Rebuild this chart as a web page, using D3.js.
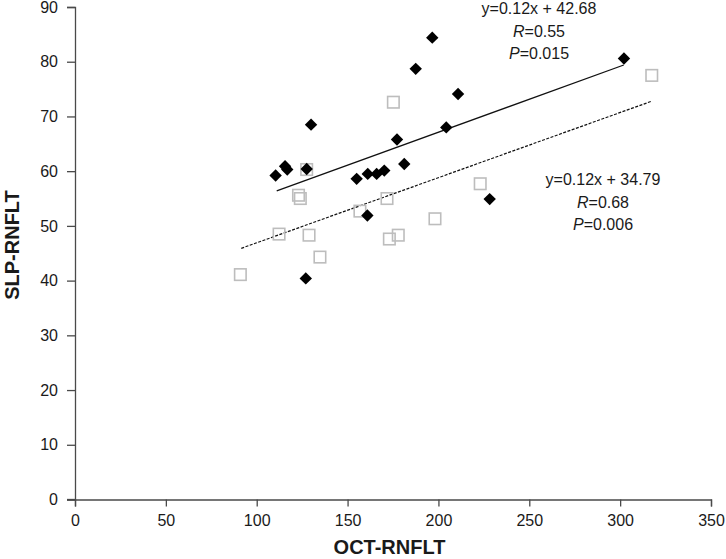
<!DOCTYPE html>
<html>
<head>
<meta charset="utf-8">
<script src="https://cdn.jsdelivr.net/npm/d3@7/dist/d3.min.js"></script>
<style>
  html, body { margin: 0; padding: 0; background: #fff; }
  svg { display: block; font-family: "Liberation Sans", Arial, sans-serif; }
</style>
</head>
<body>
<svg id="chart" width="726" height="559"></svg>
<script>
// Series 1 (black diamonds)
const diamondX = [110.4, 115.6, 116.8, 127.5, 129.9, 127.0, 155.0, 161.1, 160.9, 166.0, 170.2, 177.2, 181.2, 187.5, 196.6, 204.3, 210.8, 228.2, 302.1];
const diamondY = [59.2, 60.9, 60.3, 60.4, 68.5, 40.4, 58.6, 59.5, 51.9, 59.5, 60.1, 65.8, 61.3, 78.7, 84.4, 68.0, 74.1, 54.9, 80.6];
// Series 2 (open grey squares)
const squareX = [91.0, 112.3, 123.0, 124.0, 127.5, 128.8, 134.8, 156.8, 171.7, 173.0, 175.2, 177.9, 198.1, 223.0, 317.4];
const squareY = [41.1, 48.5, 55.6, 55.0, 60.3, 48.3, 44.3, 52.7, 55.0, 47.6, 72.6, 48.3, 51.3, 57.7, 77.5];
// Trend lines (endpoints)
const solidLineX = [111, 302];
const solidLineY = [56.4, 79.4];
const dashedLineX = [91.5, 317.5];
const dashedLineY = [45.9, 72.8];
// Ticks
const xTicks = [0, 50, 100, 150, 200, 250, 300, 350];
const yTicks = [0, 10, 20, 30, 40, 50, 60, 70, 80, 90];
// Annotations
const annot1 = ["y=0.12x + 42.68", "R", "=0.55", "P", "=0.015"];
const annot2 = ["y=0.12x + 34.79", "R", "=0.68", "P", "=0.006"];

const svg = d3.select("#chart");
const x = d3.scaleLinear().domain([0, 350]).range([75, 711]);
const y = d3.scaleLinear().domain([0, 90]).range([499.5, 7]);

const axisColor = "#4a4a4a";
const textColor = "#1a1a1a";

// X axis
const gx = svg.append("g").attr("transform", `translate(0,${y(0)})`)
  .call(d3.axisBottom(x).tickValues(xTicks).tickSize(7).tickPadding(8).tickFormat(d3.format("d")));
// Y axis
const gy = svg.append("g").attr("transform", `translate(${x(0)},0)`)
  .call(d3.axisLeft(y).tickValues(yTicks).tickSize(8).tickPadding(9).tickFormat(d3.format("d")));

[gx, gy].forEach(g => {
  g.select(".domain").attr("stroke", axisColor).attr("stroke-width", 1.3);
  g.selectAll(".tick line").attr("stroke", axisColor).attr("stroke-width", 1.3);
  g.selectAll(".tick text").attr("fill", textColor).style("font-size", "16px")
    .style("font-family", "'Liberation Sans', Arial, sans-serif");
});
// extend x-axis line left to meet y tick
gx.append("line").attr("x1", x(0) - 8).attr("x2", x(0)).attr("y1", 0).attr("y2", 0)
  .attr("stroke", axisColor).attr("stroke-width", 1.3);

// Trend lines
const line = d3.line().x(d => x(d[0])).y(d => y(d[1]));
svg.append("path").datum(solidLineX.map((v, i) => [v, solidLineY[i]]))
  .attr("d", line).attr("fill", "none").attr("stroke", "#111").attr("stroke-width", 1.3);
svg.append("path").datum(dashedLineX.map((v, i) => [v, dashedLineY[i]]))
  .attr("d", line).attr("fill", "none").attr("stroke", "#111").attr("stroke-width", 1.2)
  .attr("stroke-dasharray", "3,1.5");

// Squares
const sq = 11.5;
svg.append("g").selectAll("rect").data(squareX.map((v, i) => [v, squareY[i]]))
  .join("rect")
  .attr("x", d => x(d[0]) - sq / 2).attr("y", d => y(d[1]) - sq / 2)
  .attr("width", sq).attr("height", sq)
  .attr("fill", "none").attr("stroke", "#bdbdbd").attr("stroke-width", 1.6);

// Diamonds
const dm = 6.2;
svg.append("g").selectAll("path").data(diamondX.map((v, i) => [v, diamondY[i]]))
  .join("path")
  .attr("d", d => {
    const cx = x(d[0]), cy = y(d[1]);
    return `M${cx},${cy - dm}L${cx + dm},${cy}L${cx},${cy + dm}L${cx - dm},${cy}Z`;
  })
  .attr("fill", "#000");

// Annotations
function annot(lines, cx, baselines) {
  const g = svg.append("g").attr("fill", textColor).style("font-size", "16px")
    .attr("text-anchor", "middle");
  g.append("text").attr("x", cx).attr("y", baselines[0]).text(lines[0]);
  const t2 = g.append("text").attr("x", cx).attr("y", baselines[1]);
  t2.append("tspan").style("font-style", "italic").text(lines[1]);
  t2.append("tspan").text(lines[2]);
  const t3 = g.append("text").attr("x", cx).attr("y", baselines[2]);
  t3.append("tspan").style("font-style", "italic").text(lines[3]);
  t3.append("tspan").text(lines[4]);
}
annot(annot1, 539, [14, 36.5, 59]);
annot(annot2, 603, [185, 207.5, 230]);

// Axis titles
svg.append("text").attr("x", 389.5).attr("y", 554).attr("text-anchor", "middle")
  .attr("fill", textColor).style("font-size", "20px").style("font-weight", "bold")
  .text("OCT-RNFLT");
svg.append("text").attr("transform", "translate(19,245) rotate(-90)")
  .attr("text-anchor", "middle").attr("fill", textColor)
  .style("font-size", "20px").style("font-weight", "bold")
  .text("SLP-RNFLT");
</script>
</body>
</html>
